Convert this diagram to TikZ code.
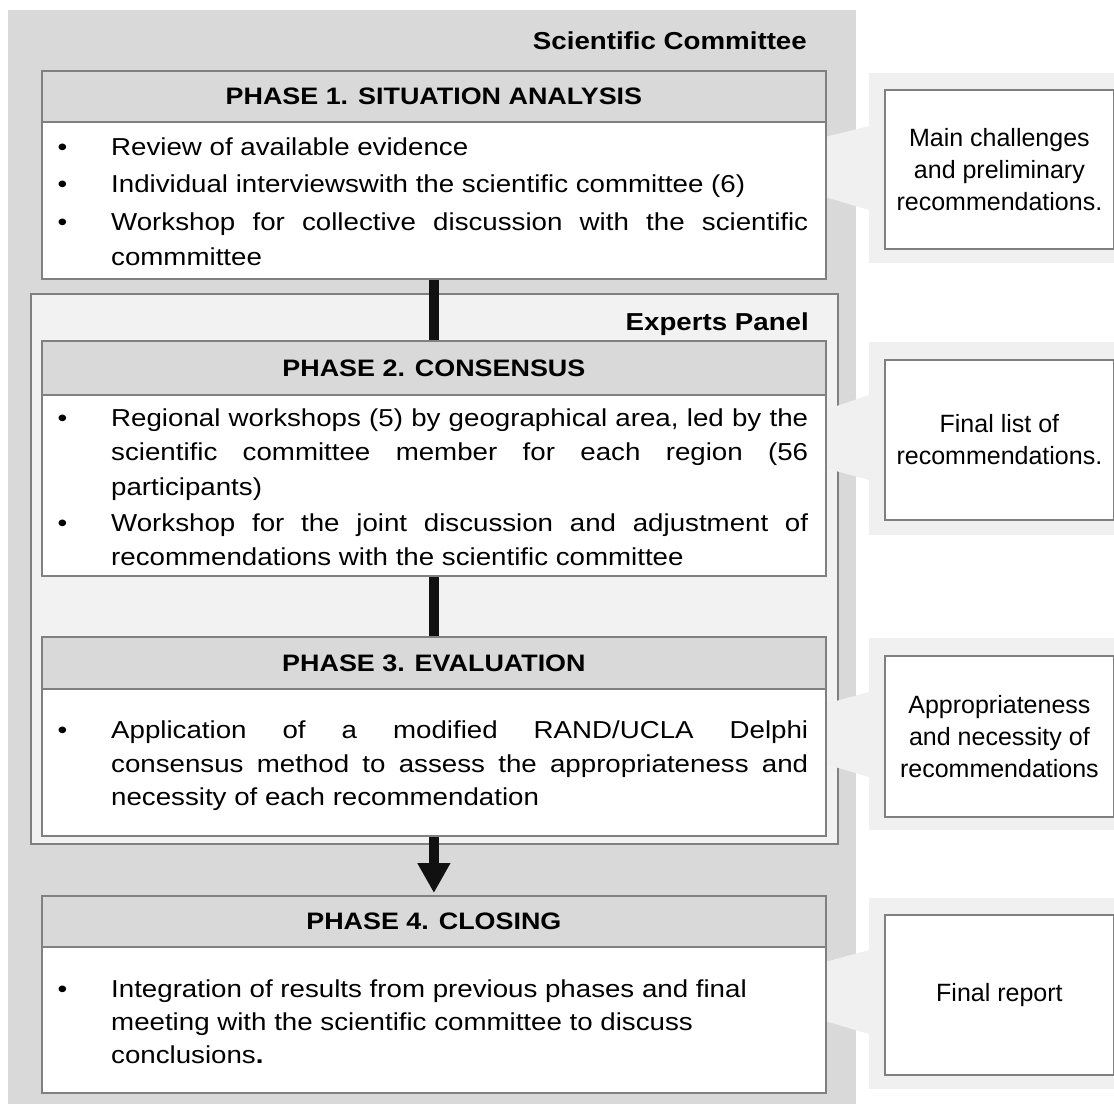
\documentclass[tikz,border=0pt]{standalone}
\usepackage{fontspec}
\setmainfont{Liberation Sans}[FakeStretch=1.13]
\newfontfamily\plainfont{Liberation Sans}
\usetikzlibrary{arrows.meta}
\definecolor{outergray}{HTML}{D9D9D9}
\definecolor{panelgray}{HTML}{F2F2F2}
\definecolor{callgray}{HTML}{F0F0F0}
\definecolor{bord}{HTML}{808080}
\definecolor{barblack}{HTML}{111111}
\newcommand\jline[1]{\makebox[697pt][s]{#1}}
\begin{document}
\begin{tikzpicture}[x=1pt,y=-1pt,
  bodytext/.style={font=\fontsize{24.5}{30}\selectfont, inner sep=0pt, anchor=base west},
  bullettext/.style={font=\fontsize{24.5}{30}\selectfont, inner sep=0pt, anchor=base},
  titletext/.style={font=\fontsize{24.5}{30}\selectfont\bfseries, inner sep=0pt, anchor=base east},
  phasebox/.style={draw=bord, line width=1.8pt, fill=white, inner sep=0pt, anchor=north west, minimum width=784pt},
  headbox/.style={draw=bord, line width=1.8pt, fill=outergray, inner sep=0pt, anchor=north west, minimum width=784pt, font=\fontsize{23.8}{30}\selectfont\bfseries},
  outbox/.style={draw=bord, line width=1.8pt, fill=white, inner sep=0pt, anchor=north west, minimum width=229pt, align=center, font=\plainfont\fontsize{25}{32}\selectfont},
  callbg/.style={fill=callgray},
  bar/.style={draw=barblack, line width=9.5pt},
]
\useasboundingbox (0,0) rectangle (1114,1104);

% Scientific committee background
\node[fill=outergray, inner sep=0pt, anchor=north west, minimum width=848pt, minimum height=1094pt] (sc) at (8,10) {};
\node[titletext] (sctitle) at (807,49) {Scientific Committee};

% Experts panel
\node[draw=bord, line width=1.8pt, fill=panelgray, inner sep=0pt, anchor=north west, minimum width=807pt, minimum height=550pt] (panel) at (30,293) {};
\node[titletext] (eptitle) at (809,330) {Experts Panel};

% Callout backgrounds and wedges
\fill[callbg] (869,73) rectangle (1114,263);
\fill[callbg] (825,137) -- (869,126) -- (869,210) -- (825,197) -- cycle;
\fill[callbg] (869,342) rectangle (1114,535);
\fill[callbg] (825,410) -- (869,395) -- (869,480) -- (825,468) -- cycle;
\fill[callbg] (869,638) rectangle (1114,830);
\fill[callbg] (825,704) -- (869,692) -- (869,777) -- (825,764) -- cycle;
\fill[callbg] (869,898) rectangle (1114,1089);
\fill[callbg] (825,962) -- (869,950) -- (869,1034) -- (825,1021) -- cycle;

% Phase boxes
\node[phasebox, minimum height=208pt] (p1) at (41,70) {};
\node[headbox, minimum height=51pt] (h1) at (41,70) {PHASE 1. SITUATION ANALYSIS};
\node[phasebox, minimum height=235pt] (p2) at (41,340) {};
\node[headbox, minimum height=54pt] (h2) at (41,340) {PHASE 2. CONSENSUS};
\node[phasebox, minimum height=199pt] (p3) at (41,636) {};
\node[headbox, minimum height=52pt] (h3) at (41,636) {PHASE 3. EVALUATION};
\node[phasebox, minimum height=197pt] (p4) at (41,895) {};
\node[headbox, minimum height=51pt] (h4) at (41,895) {PHASE 4. CLOSING};

% Phase 1 text
\node[bullettext] (b1a) at (62.5,155) {\textbullet};
\node[bullettext] (b1b) at (62.5,192) {\textbullet};
\node[bullettext] (b1c) at (62.5,230) {\textbullet};
\node[bodytext] (t1a) at (111,155) {Review of available evidence};
\node[bodytext] (t1b) at (111,192) {Individual interviewswith the scientific committee (6)};
\node[bodytext] (t1c) at (111,230) {\jline{Workshop for collective discussion with the scientific}};
\node[bodytext] (t1d) at (111,265) {commmittee};

% Phase 2 text
\node[bullettext] (b2a) at (62.5,426) {\textbullet};
\node[bullettext] (b2b) at (62.5,531) {\textbullet};
\node[bodytext] (t2a) at (111,426) {\jline{Regional workshops (5) by geographical area, led by the}};
\node[bodytext] (t2b) at (111,460) {\jline{scientific committee member for each region (56}};
\node[bodytext] (t2c) at (111,495) {participants)};
\node[bodytext] (t2d) at (111,531) {\jline{Workshop for the joint discussion and adjustment of}};
\node[bodytext] (t2e) at (111,565) {recommendations with the scientific committee};

% Phase 3 text
\node[bullettext] (b3a) at (62.5,738) {\textbullet};
\node[bodytext] (t3a) at (111,738) {\jline{Application of a modified RAND/UCLA Delphi}};
\node[bodytext] (t3b) at (111,772) {\jline{consensus method to assess the appropriateness and}};
\node[bodytext] (t3c) at (111,805) {necessity of each recommendation};

% Phase 4 text
\node[bullettext] (b4a) at (62.5,997) {\textbullet};
\node[bodytext] (t4a) at (111,997) {Integration of results from previous phases and final};
\node[bodytext] (t4b) at (111,1030) {meeting with the scientific committee to discuss};
\node[bodytext] (t4c) at (111,1063) {conclusions\textbf{.}};

% Output boxes
\node[outbox, minimum height=159pt] (o1) at (884,89) {Main challenges\\and preliminary\\recommendations.};
\node[outbox, minimum height=160pt] (o2) at (884,359) {Final list of\\recommendations.};
\node[outbox, minimum height=161pt] (o3) at (884,655) {Appropriateness\\and necessity of\\recommendations};
\node[outbox, minimum height=160pt] (o4) at (884,914) {Final report};

% Connectors
\draw[bar] (p1.south) -- (p2.north);
\draw[bar] (p2.south) -- (p3.north);
\draw[bar, -{Triangle[width=31pt,length=30pt]}, shorten >=2pt] (p3.south) -- (p4.north);
\end{tikzpicture}
\end{document}
